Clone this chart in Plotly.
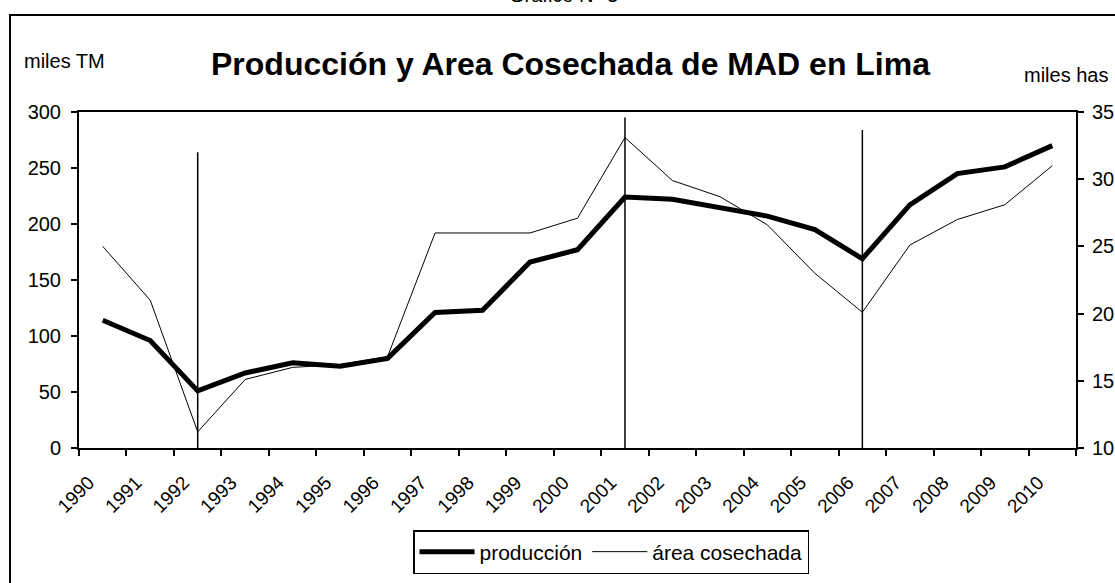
import plotly.graph_objects as go

# Data
years = [str(y) for y in range(1990, 2011)]
produccion = [114, 96, 51, 67, 76, 73, 80, 121, 123, 166, 177, 224, 222, 214, 207, 195, 169, 217, 245, 251, 270]
area = [25.0, 21.0, 11.2, 15.1, 16.0, 16.2, 16.8, 26.0, 26.0, 26.0, 27.1, 33.1, 29.9, 28.7, 26.6, 23.0, 20.1, 25.1, 27.0, 28.1, 31.0]

# vertical reference lines (year, top value on left axis)
mark_years = ["1992", "2001", "2006"]
mark_tops = [264, 295, 284]

W, H = 1115, 583
L, R, T, B = 79, 1076, 112, 448  # plot area in px


def px_x(x):
    return (x - L) / (R - L)


def px_y(y):
    return (B - y) / (B - T)


FONT = "Liberation Sans, Arial, sans-serif"

fig = go.Figure()

vx, vy = [], []
for yr, top in zip(mark_years, mark_tops):
    vx += [yr, yr, None]
    vy += [0, top, None]
fig.add_trace(go.Scatter(x=vx, y=vy, mode="lines", line=dict(color="black", width=1.5),
                         showlegend=False, hoverinfo="skip"))

fig.add_trace(go.Scatter(x=years, y=produccion, mode="lines", name="producción",
                         line=dict(color="black", width=5)))
fig.add_trace(go.Scatter(x=years, y=area, mode="lines", name="área cosechada",
                         line=dict(color="black", width=1), yaxis="y2"))

axis_font = dict(family=FONT, size=20, color="black")

fig.update_layout(
    width=W, height=H,
    margin=dict(l=L, r=W - R, t=T, b=H - B, autoexpand=False),
    paper_bgcolor="white", plot_bgcolor="white",
    font=dict(family=FONT, color="black"),
    xaxis=dict(type="category", categoryorder="array", categoryarray=years,
               range=[-0.5, 20.5], showgrid=False, zeroline=False,
               showline=True, linecolor="black", linewidth=2, mirror=True,
               ticks="outside", tickson="boundaries", ticklen=6, tickwidth=1.5, tickcolor="black",
               tickangle=-45, tickfont=dict(family=FONT, size=19, color="black"),
               ticklabelstandoff=14, ticklabelshift=-14),
    yaxis=dict(range=[0, 300], dtick=50, showgrid=False, zeroline=False,
               showline=True, linecolor="black", linewidth=2,
               ticks="outside", ticklen=6, tickwidth=1.5, tickcolor="black",
               tickfont=axis_font, ticklabelstandoff=6),
    yaxis2=dict(range=[10, 35], dtick=5, overlaying="y", side="right", anchor="x",
                showgrid=False, zeroline=False,
                showline=True, linecolor="black", linewidth=2,
                ticks="outside", ticklen=6, tickwidth=1.5, tickcolor="black",
                tickfont=axis_font, ticklabelstandoff=4),
    # inner halves of the crossing tick marks
    xaxis3=dict(overlaying="x", anchor="y", range=[-0.5, 20.5],
                tickmode="array", tickvals=[i - 0.5 for i in range(len(years) + 1)],
                ticks="inside", ticklen=6, tickwidth=1.5, tickcolor="black",
                showticklabels=False, showgrid=False, zeroline=False, showline=False),
    yaxis3=dict(overlaying="y", anchor="x", side="left", range=[0, 300], dtick=50,
                ticks="inside", ticklen=6, tickwidth=1.5, tickcolor="black",
                showticklabels=False, showgrid=False, zeroline=False, showline=False),
    yaxis4=dict(overlaying="y", anchor="x", side="right", range=[10, 35], dtick=5,
                ticks="inside", ticklen=6, tickwidth=1.5, tickcolor="black",
                showticklabels=False, showgrid=False, zeroline=False, showline=False),
    legend=dict(orientation="h", x=px_x(611), y=px_y(552), xanchor="center", yanchor="middle",
                bordercolor="black", borderwidth=1.5, bgcolor="white", itemwidth=55,
                font=dict(family=FONT, size=21, color="black")),
    showlegend=True,
)

# outer frame
fig.add_shape(type="rect", xref="paper", yref="paper",
              x0=px_x(10), x1=px_x(1125), y0=px_y(600), y1=px_y(15),
              line=dict(color="black", width=2), fillcolor="rgba(0,0,0,0)", layer="below")

fig.add_annotation(text="<b>Producción y Area Cosechada de MAD en Lima</b>",
                   xref="paper", yref="paper", x=px_x(570), y=px_y(64),
                   xanchor="center", yanchor="middle", showarrow=False,
                   font=dict(family=FONT, size=32, color="black"))
fig.add_annotation(text="miles TM", xref="paper", yref="paper", x=px_x(22), y=px_y(61),
                   xanchor="left", yanchor="middle", showarrow=False,
                   font=dict(family=FONT, size=20, color="black"))
fig.add_annotation(text="miles has", xref="paper", yref="paper", x=px_x(1022), y=px_y(75),
                   xanchor="left", yanchor="middle", showarrow=False,
                   font=dict(family=FONT, size=20, color="black"))
fig.add_annotation(text="Gráfico N° 3", xref="paper", yref="paper", x=px_x(563), y=px_y(-5),
                   xanchor="center", yanchor="middle", showarrow=False,
                   font=dict(family=FONT, size=20, color="black"))

fig.write_html("out.html", config={"displayModeBar": False},
               post_script="document.body.style.margin='0';")
